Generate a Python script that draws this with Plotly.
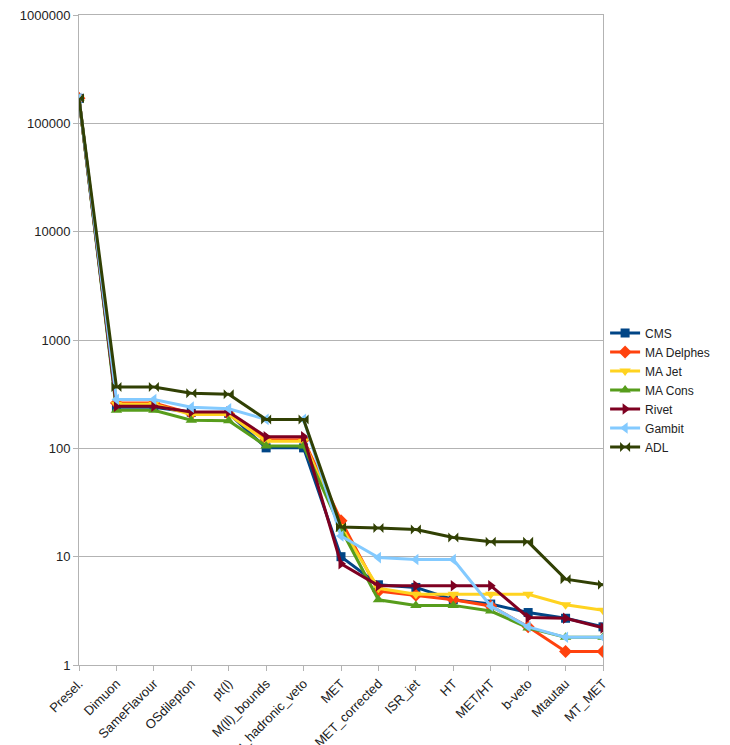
import plotly.graph_objects as go

# Cut-flow steps
cuts = ["Presel.", "Dimuon", "SameFlavour", "OSdilepton", "pt(l)", "M(ll)_bounds",
        "tau_hadronic_veto", "MET", "MET_corrected", "ISR_jet", "HT", "MET/HT",
        "b-veto", "Mtautau", "MT_MET"]

# Event yields after each cut, per tool
cms        = [170000, 240, 240, 215, 210, 101, 101, 10.0, 5.5, 5.2, 4.0, 3.65, 3.05, 2.7, 2.25]
ma_delphes = [170000, 262, 262, 210, 208, 120, 120, 21.5, 4.8, 4.4, 4.0, 3.5, 2.25, 1.33, 1.33]
ma_jet     = [170000, 255, 255, 205, 205, 116, 116, 19.0, 5.1, 4.5, 4.5, 4.5, 4.5, 3.6, 3.2]
ma_cons    = [170000, 225, 225, 182, 180, 105, 105, 18.0, 4.0, 3.55, 3.55, 3.15, 2.2, 1.8, 1.8]
rivet      = [170000, 245, 245, 216, 216, 128, 128, 8.6, 5.4, 5.4, 5.4, 5.4, 2.75, 2.7, 2.2]
gambit     = [170000, 282, 282, 240, 232, 185, 185, 15.5, 9.8, 9.4, 9.4, 3.5, 2.25, 1.8, 1.8]
adl        = [170000, 368, 368, 323, 315, 185, 185, 18.8, 18.4, 17.8, 15.0, 13.7, 13.7, 6.2, 5.5]

ytick_vals = [1, 10, 100, 1000, 10000, 100000, 1000000]
ytick_text = ["1", "10", "100", "1000", "10000", "100000", "1000000"]

series = [
    ("CMS", cms, "#004586", "square", 9),
    ("MA Delphes", ma_delphes, "#ff420e", "diamond", 10),
    ("MA Jet", ma_jet, "#ffd320", "triangle-down", 10),
    ("MA Cons", ma_cons, "#579d1c", "triangle-up", 10),
    ("Rivet", rivet, "#7e0021", "triangle-right", 10),
    ("Gambit", gambit, "#83caff", "triangle-left", 10),
    ("ADL", adl, "#314004", "bowtie", 10),
]

fig = go.Figure()
for name, vals, color, symbol, size in series:
    fig.add_trace(go.Scatter(
        x=cuts, y=vals, name=name, mode="lines+markers",
        line=dict(color=color, width=3),
        marker=dict(color=color, symbol=symbol, size=size),
    ))

font_family = "Liberation Sans, Arial, sans-serif"

fig.update_layout(
    width=730, height=745,
    margin=dict(l=79, r=127, t=15, b=80),
    paper_bgcolor="white", plot_bgcolor="white",
    font=dict(family=font_family, size=13, color="#222222"),
    showlegend=True,
    legend=dict(x=1.004, xanchor="left", y=0.423, yanchor="middle",
                font=dict(size=12), tracegroupgap=0, itemwidth=30,
                borderwidth=0, bgcolor="rgba(0,0,0,0)"),
)

fig.update_xaxes(
    type="category", range=[0, len(cuts) - 1],
    tickangle=-45, ticks="outside", ticklen=5, tickcolor="#b3b3b3",
    showgrid=False, showline=True, linecolor="#b3b3b3", linewidth=1,
    mirror=True, tickfont=dict(size=13), automargin=False,
)
fig.update_yaxes(
    type="log", range=[0, 6],
    tickvals=ytick_vals, ticktext=ytick_text,
    ticks="outside", ticklen=5, tickcolor="#b3b3b3",
    showgrid=True, gridcolor="#b3b3b3", gridwidth=1,
    showline=True, linecolor="#b3b3b3", linewidth=1, mirror=True,
    tickfont=dict(size=13), automargin=False, zeroline=False,
)

fig.write_html("out.html")
